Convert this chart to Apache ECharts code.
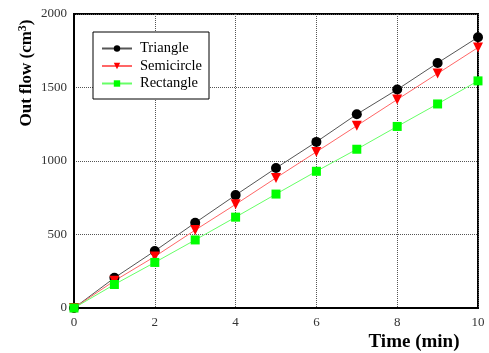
<!DOCTYPE html>
<html>
<head>
<meta charset="utf-8">
<script src="https://cdn.jsdelivr.net/npm/echarts@6/dist/echarts.min.js"></script>
<style>
  html, body { margin: 0; padding: 0; background: #fff; }
  #chart { width: 489px; height: 353px; }
</style>
</head>
<body>
<div id="chart"></div>
<script>
const times = [0, 1, 2, 3, 4, 5, 6, 7, 8, 9, 10];
const triangle = [0, 205, 388, 580, 768, 952, 1130, 1318, 1486, 1667, 1842];
const semicircle = [0, 185, 350, 530, 705, 885, 1062, 1240, 1418, 1595, 1772];
const rectangle = [0, 160, 310, 463, 618, 775, 930, 1080, 1235, 1388, 1545];

const serif = 'Liberation Serif, Times New Roman, serif';

function pairs(vals) {
  return times.map((t, i) => [t, vals[i]]);
}

const chart = echarts.init(document.getElementById('chart'));

chart.setOption({
  backgroundColor: '#fff',
  animation: false,
  grid: {
    left: 74,
    right: 11,
    top: 14,
    bottom: 45,
    outerBoundsMode: 'none',
    show: true,
    borderColor: '#000',
    borderWidth: 2,
    backgroundColor: 'transparent',
  },
  legend: {
    left: 93,
    top: 32,
    orient: 'vertical',
    backgroundColor: '#fff',
    borderColor: '#000',
    borderWidth: 1,
    borderRadius: 0,
    padding: [9, 7, 8, 8],
    itemGap: 2.5,
    itemWidth: 30,
    itemHeight: 8,
    textStyle: { fontFamily: serif, fontSize: 14.5, lineHeight: 15, color: '#000', padding: [0, 0, 0, 3] },
    data: ['Triangle', 'Semicircle', 'Rectangle'],
  },
  xAxis: {
    type: 'value',
    min: 0,
    max: 10,
    interval: 2,
    name: 'Time (min)',
    nameLocation: 'middle',
    nameGap: 25,
    nameMoveOverlap: false,
    nameTextStyle: {
      fontFamily: serif,
      fontSize: 19,
      fontWeight: 'bold',
      color: '#000',
      padding: [0, 0, 0, 276],
    },
    axisLine: { show: true, lineStyle: { color: '#000', width: 2 } },
    axisTick: { show: false },
    axisLabel: { fontFamily: serif, fontSize: 13, color: '#333', margin: 8 },
    splitLine: { show: true, lineStyle: { color: '#555', type: 'dotted', width: 1 } },
  },
  yAxis: {
    type: 'value',
    min: 0,
    max: 2000,
    interval: 500,
    name: '{n|Out flow (cm}{s|3}{n|)}',
    nameLocation: 'middle',
    nameGap: 37,
    nameMoveOverlap: false,
    nameTextStyle: {
      padding: [0, 0, 0, 176],
      rich: {
        n: { fontFamily: serif, fontSize: 17, fontWeight: 'bold', color: '#000' },
        s: { fontFamily: serif, fontSize: 12, fontWeight: 'bold', color: '#000', verticalAlign: 'top', padding: [0, 0, 8, 0] },
      },
    },
    axisLine: { show: true, lineStyle: { color: '#000', width: 2 } },
    axisTick: { show: false },
    axisLabel: { fontFamily: serif, fontSize: 13, color: '#333', margin: 7, formatter: (v) => String(v) },
    splitLine: { show: true, lineStyle: { color: '#555', type: 'dotted', width: 1 } },
  },
  series: [
    {
      name: 'Triangle',
      type: 'line',
      data: pairs(triangle),
      symbol: 'circle',
      symbolSize: 10,
      itemStyle: { color: '#000' },
      lineStyle: { color: '#555', width: 1 },
    },
    {
      name: 'Semicircle',
      type: 'line',
      data: pairs(semicircle),
      symbol: 'triangle',
      symbolRotate: 180,
      symbolSize: 10,
      itemStyle: { color: '#ff0000' },
      lineStyle: { color: '#ff6666', width: 1 },
    },
    {
      name: 'Rectangle',
      type: 'line',
      data: pairs(rectangle),
      symbol: 'rect',
      symbolSize: 9,
      itemStyle: { color: '#00ff00' },
      lineStyle: { color: '#66ff66', width: 1 },
    },
  ],
});
</script>
</body>
</html>
